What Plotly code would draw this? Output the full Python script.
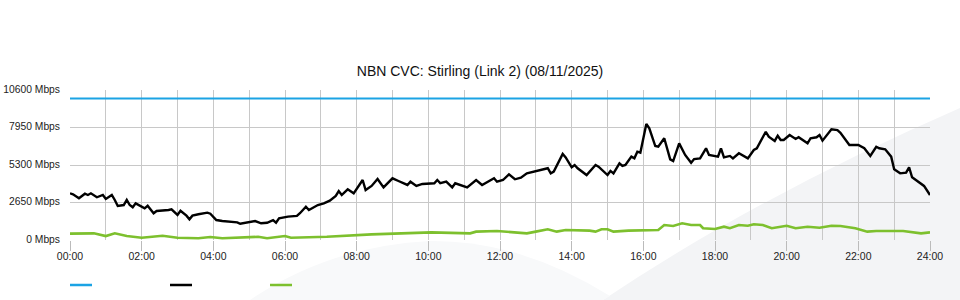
import plotly.graph_objects as go

# ---- data ----
tick_hours = list(range(0, 25, 2))
tick_labels = [f"{h:02d}:00" for h in tick_hours]
y_ticks = [0, 2650, 5300, 7950, 10600]
y_tick_labels = [f"{v} Mbps" for v in y_ticks]

capacity_times = ["00:00", "24:00"]
capacity_mbps = [10000, 10000]

down_times = ["00:00","00:05","00:15","00:25","00:30","00:35","00:45","00:55","01:00","01:10","01:15","01:20","01:30","01:35","01:40","01:45","01:50","01:55","02:05","02:10","02:20","02:25","02:35","02:45","02:50","03:00","03:05","03:15","03:20","03:25","03:35","03:50","03:55","04:05","04:15","04:25","04:40","04:45","04:55","05:00","05:10","05:20","05:30","05:40","05:45","05:50","06:05","06:20","06:25","06:35","06:40","06:55","07:05","07:15","07:25","07:30","07:35","07:45","07:55","08:10","08:15","08:25","08:35","08:45","09:00","09:10","09:25","09:30","09:40","09:50","10:10","10:15","10:20","10:30","10:40","10:45","11:05","11:20","11:30","11:50","11:55","12:05","12:15","12:25","12:35","12:45","13:00","13:10","13:20","13:25","13:30","13:45","13:50","14:00","14:05","14:10","14:25","14:40","14:45","15:00","15:05","15:10","15:20","15:25","15:30","15:40","15:45","15:50","15:55","16:05","16:10","16:20","16:25","16:35","16:45","16:50","17:00","17:10","17:20","17:25","17:35","17:45","17:50","18:05","18:10","18:15","18:25","18:30","18:40","18:55","19:05","19:10","19:25","19:30","19:40","19:45","19:50","19:55","20:05","20:15","20:20","20:35","20:40","20:50","20:55","21:00","21:15","21:25","21:30","21:45","22:00","22:10","22:20","22:30","22:35","22:45","22:55","23:00","23:10","23:20","23:25","23:30","23:40","23:50","24:00"]
down_mbps = [3300,3230,2950,3270,3180,3300,3020,3180,2900,3180,2830,2400,2470,2830,2470,2310,2590,2470,2240,2420,1890,2050,2070,2120,2170,1770,2070,1720,1460,1720,1820,1930,1860,1410,1340,1290,1250,1150,1220,1220,1340,1180,1220,1410,1220,1530,1650,1700,1890,2350,2120,2470,2590,2780,3110,3460,3180,3580,3300,4240,3530,3820,4310,3720,4360,4170,3890,4120,3820,3960,4010,4240,4010,4120,3720,4010,3720,4240,3890,4360,4120,4240,4640,4290,4400,4710,4880,4950,5070,4710,4830,6080,5840,5140,5300,5070,4590,5300,5180,4590,4880,4710,5420,5230,5300,5890,5770,6240,6170,8200,7890,6640,6590,7190,5700,5580,6830,6010,5460,5720,5770,6480,6010,5890,6480,5840,5940,5770,6130,5770,6360,6480,7650,7300,7000,7370,7070,7070,7420,7140,7260,6830,7190,7260,7420,7020,7820,7770,7580,6710,6710,6480,5940,6590,6480,6410,5890,5000,4710,4760,5140,4430,4120,3820,3180]

up_times = ["00:00","00:40","01:00","01:15","01:35","02:00","02:35","03:00","03:35","03:55","04:15","04:55","05:15","05:30","06:00","06:10","07:10","08:25","09:30","10:05","11:10","11:20","11:55","12:45","13:00","13:20","13:35","13:50","14:30","14:40","14:50","15:00","15:10","15:35","16:25","16:35","16:50","17:05","17:20","17:35","17:40","18:00","18:15","18:25","18:40","18:55","19:05","19:20","19:35","19:50","20:00","20:15","20:35","20:55","21:15","21:30","21:55","22:15","22:30","23:15","23:45","24:00"]
up_mbps = [450,470,280,470,280,160,300,160,120,210,120,210,230,120,280,160,230,400,470,540,470,590,640,470,590,760,590,710,660,590,760,760,590,660,710,1060,990,1180,1060,1060,830,780,940,830,1060,1010,1110,1060,830,940,1010,830,940,870,1010,990,830,590,640,640,470,540]


def to_hours(labels):
    out = []
    for s in labels:
        h, m = s.split(":")
        out.append(int(h) + int(m) / 60.0)
    return out


# ---- figure ----
W, H = 960, 300
ML, MR, MT, MB = 70, 30, 90, 60
PW, PH = W - ML - MR, H - MT - MB


def px(x):  # pixel -> paper x
    return (x - ML) / PW


def py(y):  # pixel -> paper y
    return (H - MB - y) / PH


BLUE, BLACK, GREEN = "#1ba3e4", "#000000", "#7dc02e"

fig = go.Figure()
fig.add_trace(go.Scatter(x=to_hours(capacity_times), y=capacity_mbps, mode="lines",
                         line=dict(color=BLUE, width=2.2), hoverinfo="skip"))
fig.add_trace(go.Scatter(x=to_hours(down_times), y=down_mbps, mode="lines",
                         line=dict(color=BLACK, width=2.4)))
fig.add_trace(go.Scatter(x=to_hours(up_times), y=up_mbps, mode="lines",
                         line=dict(color=GREEN, width=2.6)))

shapes = []
# background decoration (light grey swoosh)
shapes.append(dict(type="path", xref="paper", yref="paper", layer="below",
                   path=(f"M {px(603)} {py(300)} Q {px(758)} {py(196)} {px(960)} {py(108)} "
                         f"L {px(960)} {py(300)} Z"),
                   fillcolor="#f3f4f6", line=dict(width=0)))
shapes.append(dict(type="path", xref="paper", yref="paper", layer="below",
                   path=(f"M {px(250)} {py(300)} Q {px(330)} {py(246)} {px(430)} {py(241)} "
                         f"Q {px(520)} {py(240)} {px(610)} {py(296)} L {px(603)} {py(300)} Z"),
                   fillcolor="#f8f9fa", line=dict(width=0)))
# legend swatches (no labels in the reference)
for x0, col in [(70, BLUE), (170, BLACK), (270, GREEN)]:
    shapes.append(dict(type="line", xref="paper", yref="paper",
                       x0=px(x0), x1=px(x0 + 22), y0=py(285), y1=py(285),
                       line=dict(color=col, width=2.5)))

grid_col = "#c8c8c8"
fig.update_layout(
    width=W, height=H,
    margin=dict(l=ML, r=MR, t=MT, b=MB, autoexpand=False),
    paper_bgcolor="white", plot_bgcolor="rgba(0,0,0,0)",
    showlegend=False,
    font=dict(family="Liberation Sans, Arial, sans-serif", size=10.5, color="#222"),
    title=dict(text="NBN CVC: Stirling (Link 2) (08/11/2025)", x=0.5, xanchor="center",
               y=1 - 71 / H, yanchor="middle", font=dict(size=14, color="#111")),
    shapes=shapes,
    xaxis=dict(range=[0, 24], tickvals=tick_hours, ticktext=tick_labels,
               showgrid=True, gridcolor=grid_col, gridwidth=1,
               ticks="outside", ticklen=10, tickcolor="#bbbbbb", tickwidth=1,
               ticklabelstandoff=-4,
               minor=dict(dtick=1, showgrid=True, gridcolor=grid_col, gridwidth=1, ticks=""),
               zeroline=False, showline=False, fixedrange=True, automargin=False),
    yaxis=dict(range=[0, 10600], tickvals=y_ticks, ticktext=y_tick_labels,
               tickfont=dict(size=10.3), ticklabelshift=-1,
               showgrid=True, gridcolor=grid_col, gridwidth=1,
               zeroline=False, showline=False, ticks="", ticklabelstandoff=9,
               fixedrange=True, automargin=False),
)

fig.write_html("out.html")
